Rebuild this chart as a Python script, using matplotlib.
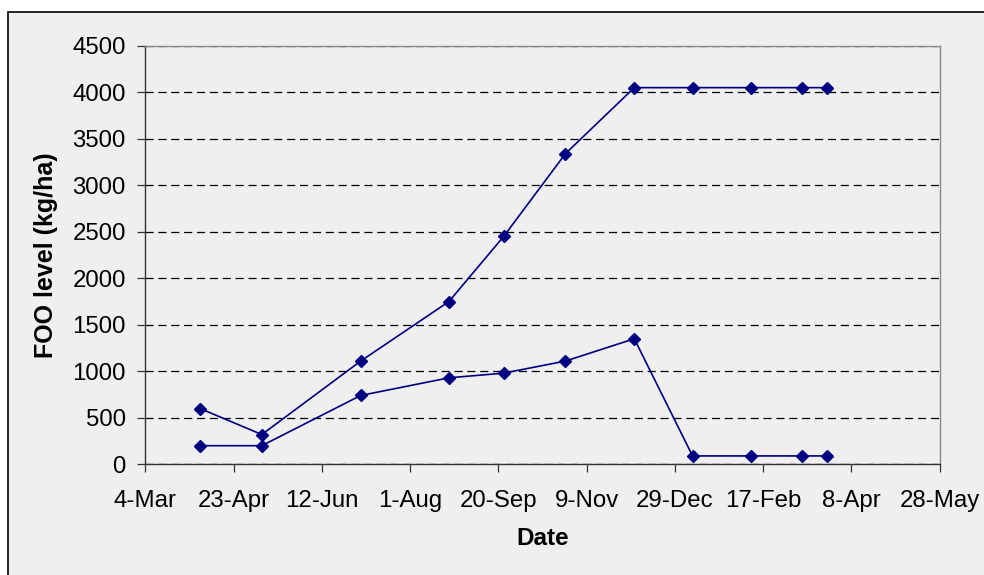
import matplotlib
matplotlib.use("Agg")
import matplotlib.pyplot as plt
import matplotlib.dates as mdates
import matplotlib.patches as mpatches
import pandas as pd

plt.rcParams['font.family'] = ['Liberation Sans', 'DejaVu Sans']

dates = ["2001-04-04", "2001-05-09", "2001-07-04", "2001-08-23", "2001-09-23",
         "2001-10-28", "2001-12-06", "2002-01-08", "2002-02-10", "2002-03-11",
         "2002-03-25"]
upper = [600, 320, 1110, 1750, 2450, 3340, 4050, 4050, 4050, 4050, 4050]
lower = [200, 200, 740, 930, 980, 1110, 1350, 90, 90, 90, 90]
tick_dates = pd.date_range("2001-03-04", periods=10, freq="50D")
y_ticks = list(range(0, 4501, 500))

x = pd.to_datetime(dates)

fig = plt.figure(figsize=(9.84, 5.75), dpi=100)
fig.patch.set_facecolor("white")
frame = mpatches.Rectangle((7.5 / 984, -0.1), 1.2, 1 - 11.5 / 575 + 0.1,
                           transform=fig.transFigure, facecolor="#efefef",
                           edgecolor="black", linewidth=1.2, zorder=-10)
fig.patches.append(frame)

ax = fig.add_axes([145.3 / 984, 1 - 464.3 / 575, (939.7 - 145.3) / 984, (464.3 - 45.8) / 575])
ax.set_facecolor("#efefef")

color = "#000080"
for s in (upper, lower):
    ax.plot(x, s, color=color, linewidth=1.2, marker="D", markersize=6.5,
            markerfacecolor=color, markeredgecolor=color, zorder=3, clip_on=False)

ax.set_xlim(tick_dates[0], tick_dates[-1])
ax.set_ylim(0, 4500)
ax.set_yticks(y_ticks)
ax.xaxis.set_major_locator(matplotlib.ticker.FixedLocator(mdates.date2num(tick_dates)))
ax.xaxis.set_major_formatter(mdates.DateFormatter("%-d-%b"))

ax.yaxis.grid(True, color="black", linestyle=(0, (6.5, 3.8)), linewidth=0.9)
ax.set_axisbelow(True)

for side in ("left", "bottom"):
    ax.spines[side].set_color("#333333")
    ax.spines[side].set_linewidth(1.0)
for side in ("top", "right"):
    ax.spines[side].set_color("#888888")
    ax.spines[side].set_linewidth(1.0)

ax.tick_params(axis="both", direction="out", length=6, width=0.9, colors="#333333",
               labelcolor="black", labelsize=17.3)
ax.tick_params(axis="y", pad=8)
ax.tick_params(axis="x", pad=12.5)

ax.set_xlabel("Date", fontsize=17.5, fontweight="bold", labelpad=11)
ax.set_ylabel("FOO level (kg/ha)", fontsize=18, fontweight="bold", labelpad=10)

fig.savefig("out.png", dpi=100, facecolor=fig.get_facecolor())
